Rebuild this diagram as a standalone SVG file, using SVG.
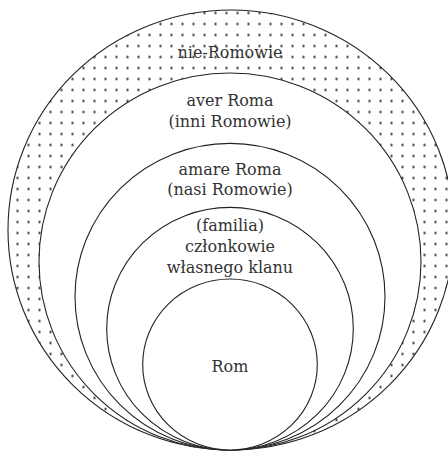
<svg xmlns="http://www.w3.org/2000/svg" width="448" height="451" viewBox="0 0 448 451">
<style>
.c{fill:#fff;stroke:#222;stroke-width:1.1}
.t{font-family:"DejaVu Serif","Liberation Serif",serif;font-size:16px;fill:#333;text-anchor:middle}
</style>
<defs>
<pattern id="dots" patternUnits="userSpaceOnUse" x="1" y="-3.5" width="11" height="11">
<rect x="4.5" y="4.5" width="2" height="2" fill="#1a1a1a"/>
</pattern>
</defs>
<rect width="448" height="451" fill="#fff"/>
<g id="nie-romowie">
<ellipse cx="231" cy="230" rx="223" ry="220" fill="url(#dots)" stroke="#222" stroke-width="1.1"/>
<text class="t" x="230" y="58">nie-Romowie</text>
</g>
<g id="aver-roma">
<ellipse class="c" cx="230" cy="261.5" rx="191" ry="188.5"/>
<text class="t" x="230" y="105.5">aver Roma</text>
<text class="t" x="230" y="126.5">(inni Romowie)</text>
</g>
<g id="amare-roma">
<ellipse class="c" cx="230" cy="296.7" rx="155" ry="153.3"/>
<text class="t" x="230" y="174.5">amare Roma</text>
<text class="t" x="230" y="195">(nasi Romowie)</text>
</g>
<g id="familia">
<ellipse class="c" cx="230" cy="328.7" rx="123.3" ry="121.3"/>
<text class="t" x="230" y="230.5">(familia)</text>
<text class="t" x="230" y="251.5">członkowie</text>
<text class="t" x="230" y="272.5">własnego klanu</text>
</g>
<g id="rom">
<ellipse class="c" cx="230" cy="364.5" rx="87.3" ry="85.5"/>
<text class="t" x="230" y="371.5">Rom</text>
</g>
<g id="connectors"></g>
</svg>
